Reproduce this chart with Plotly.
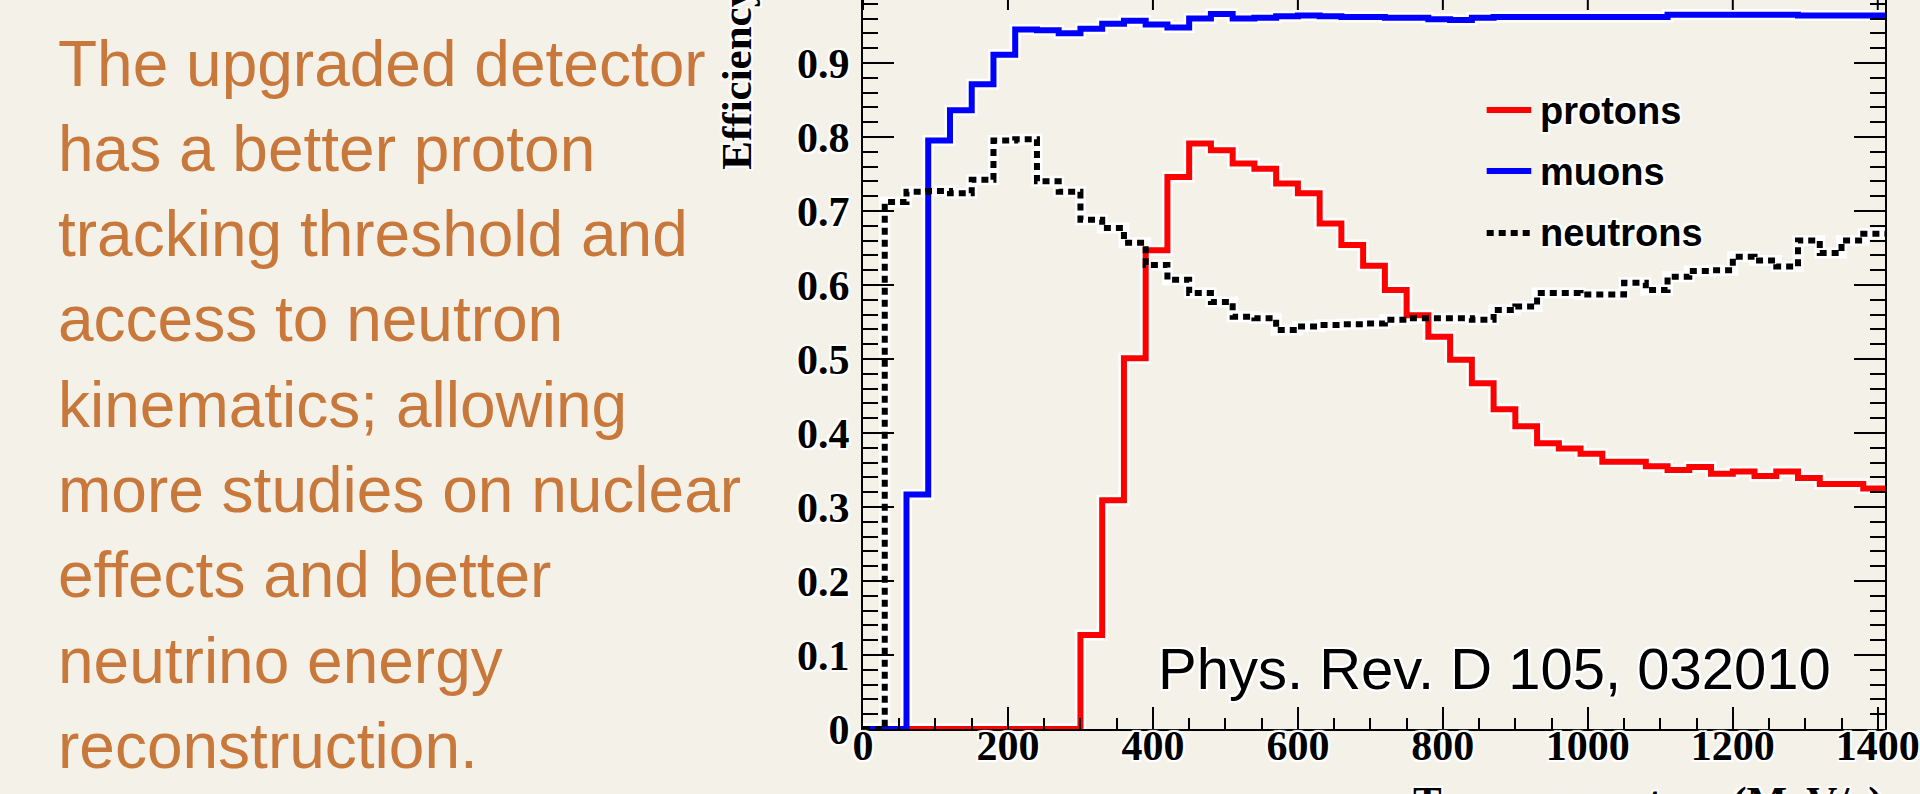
import plotly.graph_objects as go

# ---------------- data ----------------
bin_edges = list(range(0, 1411, 30))  # 47 bins of 30 MeV/c, 0..1410

protons = [0, 0, 0, 0, 0, 0, 0, 0, 0, 0,
           0.127, 0.309, 0.501, 0.647, 0.746, 0.791, 0.782, 0.764, 0.757, 0.737,
           0.724, 0.683, 0.654, 0.626, 0.593, 0.559, 0.530, 0.499, 0.467, 0.432,
           0.409, 0.386, 0.379, 0.372, 0.361, 0.361, 0.355, 0.350, 0.354, 0.345,
           0.348, 0.342, 0.348, 0.339, 0.331, 0.331, 0.325]

muons = [0, 0, 0.317, 0.795, 0.836, 0.871, 0.911, 0.945, 0.944, 0.940,
         0.946, 0.953, 0.957, 0.952, 0.948, 0.960, 0.966, 0.960, 0.961, 0.963,
         0.964, 0.963, 0.962, 0.962, 0.961, 0.961, 0.959, 0.958, 0.961, 0.962,
         0.962, 0.962, 0.962, 0.962, 0.962, 0.962, 0.962, 0.965, 0.965, 0.965,
         0.965, 0.965, 0.965, 0.964, 0.964, 0.964, 0.964]

neutrons = [0, 0.712, 0.726, 0.727, 0.724, 0.742, 0.795, 0.797, 0.740, 0.726,
            0.688, 0.677, 0.657, 0.627, 0.607, 0.589, 0.577, 0.557, 0.555, 0.539,
            0.544, 0.546, 0.547, 0.548, 0.553, 0.555, 0.555, 0.555, 0.553, 0.566,
            0.571, 0.589, 0.589, 0.587, 0.587, 0.603, 0.593, 0.611, 0.619, 0.620,
            0.638, 0.633, 0.625, 0.660, 0.643, 0.660, 0.669]

x_ticks = [0, 200, 400, 600, 800, 1000, 1200, 1400]
series_names = ["protons", "muons", "neutrons"]

left_text = ["The upgraded detector",
             "has a better proton",
             "tracking threshold and",
             "access to neutron",
             "kinematics; allowing",
             "more studies on nuclear",
             "effects and better",
             "neutrino energy",
             "reconstruction."]

citation = "Phys. Rev. D 105, 032010"
x_title = "True momentum (MeV/c)"
y_title = "Efficiency"

# ---------------- layout geometry ----------------
W, H = 1920, 794
PL, PR, PT, PB = 862.5, 1894.0, 0.0, 729.0   # plot area in pixels
BG = "#F4F1E9"
ORANGE = "#C8783A"
HALO = "2px 2px 1px #ffffff, -2px -2px 1px #ffffff, 2px -2px 1px #ffffff, -2px 2px 1px #ffffff"


def px_x(p):
    return (p - PL) / (PR - PL)


def px_y(p):
    return (PB - p) / (PB - PT)


def step_xy(vals):
    return bin_edges, vals + [vals[-1]]


fig = go.Figure()

colors = {"protons": "#FF0000", "muons": "#0000FF", "neutrons": "#000000"}
data = {"protons": protons, "muons": muons, "neutrons": neutrons}

# white halos underneath
for name in series_names:
    xs, ys = step_xy(data[name])
    fig.add_trace(go.Scatter(x=xs, y=ys, mode="lines", line_shape="hv",
                             line=dict(color="#FFFFFF", width=11),
                             hoverinfo="skip", showlegend=False))

for name in series_names:
    xs, ys = step_xy(data[name])
    dash = "7px,5px" if name == "neutrons" else "solid"
    fig.add_trace(go.Scatter(x=xs, y=ys, mode="lines", line_shape="hv", name=name,
                             line=dict(color=colors[name], width=6, dash=dash),
                             showlegend=False))

tickfont = dict(family="Liberation Serif", size=42, color="black", weight="bold", shadow=HALO)

fig.update_xaxes(range=[0, 1410], showgrid=False, zeroline=False,
                 showline=True, linecolor="black", linewidth=2, mirror=False,
                 ticks="inside", ticklen=22, tickwidth=2, tickcolor="black",
                 tickvals=x_ticks, ticktext=[str(v) for v in x_ticks],
                 tickfont=tickfont, ticklabeloverflow="allow", ticklabelstandoff=-21,
                 minor=dict(dtick=50, tick0=0, ticks="inside", ticklen=11,
                            tickwidth=2, tickcolor="black", showgrid=False))

fig.update_yaxes(range=[0, 0.985], showgrid=False, zeroline=False,
                 showline=True, linecolor="black", linewidth=2, mirror="ticks",
                 ticks="inside", ticklen=31, tickwidth=2, tickcolor="black",
                 tick0=0, dtick=0.1, tickfont=tickfont, ticklabelstandoff=3,
                 minor=dict(dtick=0.02, tick0=0, ticks="inside", ticklen=15,
                            tickwidth=2, tickcolor="black", showgrid=False))

shapes = []
# top frame ticks (frame itself is above the visible page)
for v in x_ticks:
    shapes.append(dict(type="line", xref="x", yref="paper", x0=v, x1=v,
                       y0=1, y1=px_y(10), line=dict(color="black", width=2)))

annotations = []

# legend (drawn manually)
legend_rows = [("protons", 111, 110), ("muons", 172, 171), ("neutrons", 233, 233)]
for name, ty, ly in legend_rows:
    dash = "7px,5px" if name == "neutrons" else "solid"
    shapes.append(dict(type="line", xref="paper", yref="paper",
                       x0=px_x(1492), x1=px_x(1537), y0=px_y(ly), y1=px_y(ly),
                       line=dict(color=colors[name], width=6, dash=dash)))
    annotations.append(dict(text=name, xref="paper", yref="paper",
                            x=px_x(1544), y=px_y(ty), xanchor="left", yanchor="middle",
                            showarrow=False,
                            font=dict(family="Liberation Sans", size=38, color="black",
                                      weight="bold", shadow=HALO)))

# citation
annotations.append(dict(text=citation, xref="paper", yref="paper",
                        x=px_x(1500), y=px_y(668), xanchor="center", yanchor="middle",
                        showarrow=False,
                        font=dict(family="Liberation Sans", size=58, color="black", shadow=HALO)))

# axis titles (partly outside the visible page, as in the reference)
annotations.append(dict(text=x_title, xref="paper", yref="paper",
                        x=1.0, y=px_y(802), xanchor="right", yanchor="middle",
                        showarrow=False,
                        font=dict(family="Liberation Serif", size=43, color="black",
                                  weight="bold", shadow=HALO)))
annotations.append(dict(text=y_title, xref="paper", yref="paper", textangle=-90,
                        x=px_x(735), y=px_y(78), xanchor="center", yanchor="middle",
                        showarrow=False,
                        font=dict(family="Liberation Serif", size=43, color="black",
                                  weight="bold", shadow=HALO)))

# left-hand explanatory text
for k, line in enumerate(left_text):
    baseline = 86 + 85.3 * k
    annotations.append(dict(text=line, xref="paper", yref="paper",
                            x=px_x(48), y=px_y(baseline - 22.5), xanchor="left", yanchor="middle",
                            showarrow=False,
                            font=dict(family="Liberation Sans", size=64, color=ORANGE)))

fig.update_layout(width=W, height=H, autosize=False,
                  margin=dict(l=PL, r=W - PR, t=PT, b=H - PB, pad=0),
                  paper_bgcolor=BG, plot_bgcolor=BG, showlegend=False,
                  shapes=shapes, annotations=annotations)

fig.write_html("out.html", config={"displayModeBar": False})
